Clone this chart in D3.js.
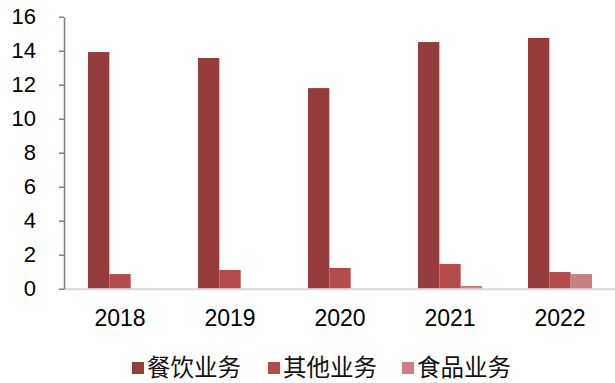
<!DOCTYPE html>
<html>
<head>
<meta charset="utf-8">
<script src="https://cdn.jsdelivr.net/npm/d3@7/dist/d3.min.js"></script>
<style>
  body { margin: 0; background: #fff; }
  svg { display: block; }
</style>
</head>
<body>
<div class="chart"></div>
<script>
const years = ["2018", "2019", "2020", "2021", "2022"];
const seriesNames = ["餐饮业务", "其他业务", "食品业务"];
const catering = [13.92, 13.57, 11.8, 14.51, 14.75];
const other = [0.86, 1.1, 1.22, 1.45, 0.98];
const food = [0, 0, 0, 0.16, 0.86];
const yTicks = [0, 2, 4, 6, 8, 10, 12, 14, 16];
const colors = ["#963c3c", "#b54a4a", "#cc7f7f"];

const seriesValues = [catering, other, food];

const svg = d3.select(".chart").append("svg")
  .attr("width", 615)
  .attr("height", 383);

const x = d3.scaleBand().domain(years).range([65, 615]).padding(0);
const groupW = 64;
const xs = d3.scaleBand().domain(seriesNames).range([0, groupW]);
const y = d3.scaleLinear().domain([0, 16]).range([288.7, 16.7]);

// bars
seriesNames.forEach((name, i) => {
  svg.append("g")
    .selectAll("rect")
    .data(seriesValues[i])
    .join("rect")
    .attr("x", (d, j) => x(years[j]) + x.bandwidth() / 2 - groupW / 2 + xs(name))
    .attr("width", xs.bandwidth())
    .attr("y", d => y(d))
    .attr("height", d => y(0) - y(d))
    .attr("fill", colors[i]);
});

// x axis line
svg.append("line")
  .attr("x1", 64).attr("x2", 615)
  .attr("y1", y(0) + 0.5).attr("y2", y(0) + 0.5)
  .attr("stroke", "#d9d9d9")
  .attr("stroke-width", 2);

// y axis
const yAxis = svg.append("g")
  .attr("transform", "translate(64,0)")
  .call(d3.axisLeft(y).tickValues(yTicks).tickSize(5).tickSizeOuter(0).tickPadding(8));
yAxis.select(".domain").attr("stroke", "#808080").attr("stroke-width", 1.5);
yAxis.selectAll(".tick line").attr("stroke", "#808080").attr("stroke-width", 1.5);
yAxis.selectAll(".tick text")
  .attr("x", -28)
  .attr("fill", "#000")
  .style("font-family", "Liberation Sans, Arial, sans-serif")
  .style("font-size", "22px");

// x labels
svg.append("g")
  .selectAll("text")
  .data(years)
  .join("text")
  .attr("x", d => x(d) + x.bandwidth() / 2)
  .attr("y", 326)
  .attr("text-anchor", "middle")
  .style("font-family", "Liberation Sans, Arial, sans-serif")
  .style("font-size", "23px")
  .text(d => d);

// legend
const legendX = [132, 268, 402];
const legend = svg.append("g")
  .selectAll("g")
  .data(seriesNames)
  .join("g")
  .attr("transform", (d, i) => `translate(${legendX[i]},362)`);
legend.append("rect")
  .attr("width", 12).attr("height", 12)
  .attr("fill", (d, i) => colors[i]);
legend.append("text")
  .attr("x", 15)
  .attr("y", 14)
  .style("font-family", "Noto Sans CJK SC, sans-serif")
  .style("font-size", "23.5px")
  .attr("fill", "#111")
  .text(d => d);
</script>
</body>
</html>
